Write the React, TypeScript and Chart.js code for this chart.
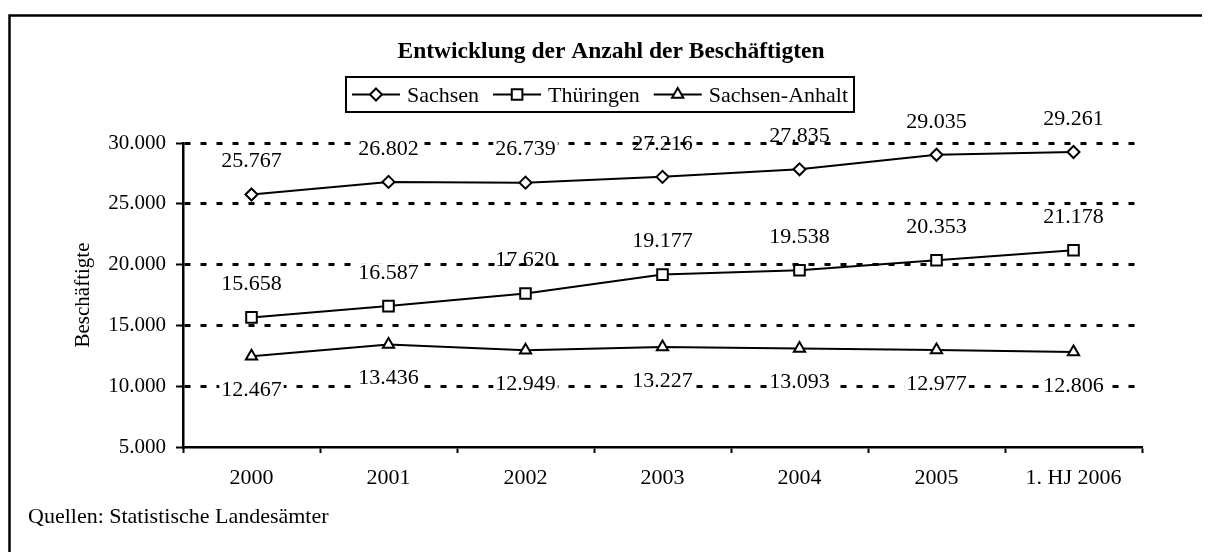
import React, { useEffect, useRef } from "react";
import { Chart, registerables } from "chart.js";

Chart.register(...registerables);

// ---------- data ----------
const categories = ["2000", "2001", "2002", "2003", "2004", "2005", "1. HJ 2006"];
const sachsen = [25767, 26802, 26739, 27216, 27835, 29035, 29261];
const thueringen = [15658, 16587, 17620, 19177, 19538, 20353, 21178];
const sachsenAnhalt = [12467, 13436, 12949, 13227, 13093, 12977, 12806];
const seriesNames = ["Sachsen", "Thüringen", "Sachsen-Anhalt"];
const yTicks = [5000, 10000, 15000, 20000, 25000, 30000];
const titleText = "Entwicklung der Anzahl der Beschäftigten";
const yAxisTitle = "Beschäftigte";
const sourceText = "Quellen: Statistische Landesämter";

const FONT = "'Liberation Serif', 'Times New Roman', serif";

const fmt = (v: number) => String(Math.round(v)).replace(/\B(?=(\d{3})+(?!\d))/g, ".");

function drawMarker(ctx: CanvasRenderingContext2D, style: string, x: number, y: number, r: number) {
  ctx.beginPath();
  if (style === "rectRot") {
    ctx.moveTo(x, y - r);
    ctx.lineTo(x + r, y);
    ctx.lineTo(x, y + r);
    ctx.lineTo(x - r, y);
    ctx.closePath();
  } else if (style === "rect") {
    const s = r * Math.SQRT1_2;
    ctx.rect(x - s, y - s, 2 * s, 2 * s);
  } else {
    let rad = 0;
    ctx.moveTo(x + Math.sin(rad) * r, y - Math.cos(rad) * r);
    rad += (2 * Math.PI) / 3;
    ctx.lineTo(x + Math.sin(rad) * r, y - Math.cos(rad) * r);
    rad += (2 * Math.PI) / 3;
    ctx.lineTo(x + Math.sin(rad) * r, y - Math.cos(rad) * r);
    ctx.closePath();
  }
  ctx.fillStyle = "#fff";
  ctx.fill();
  ctx.strokeStyle = "#000";
  ctx.lineWidth = 2;
  ctx.stroke();
}

// label placement per series (style, not data)
const labelBelow = [false, false, true];
// labels whose background is transparent (gridline shows through), as [series, point]
const transparentLabels = ["0-3", "0-4", "1-2"];

const valueLabels = {
  id: "valueLabels",
  afterDatasetsDraw(chart: any) {
    const ctx: CanvasRenderingContext2D = chart.ctx;
    ctx.save();
    ctx.font = `22px ${FONT}`;
    ctx.textAlign = "center";
    ctx.textBaseline = "middle";
    chart.data.datasets.forEach((ds: any, i: number) => {
      const meta = chart.getDatasetMeta(i);
      meta.data.forEach((pt: any, j: number) => {
        const text = fmt(ds.data[j]);
        const x = pt.x;
        const y = pt.y + (labelBelow[i] ? 34 : -33);
        const w = ctx.measureText(text).width;
        if (!transparentLabels.includes(`${i}-${j}`)) {
          ctx.fillStyle = "#fff";
          ctx.fillRect(x - w / 2 - 2, y - 10, w + 4, 21);
        }
        ctx.fillStyle = "#000";
        ctx.fillText(text, x, y);
      });
    });
    ctx.restore();
  },
};

const decor = {
  id: "decor",
  afterDraw(chart: any) {
    const ctx: CanvasRenderingContext2D = chart.ctx;
    ctx.save();
    // outer frame
    ctx.strokeStyle = "#000";
    ctx.lineWidth = 2.5;
    ctx.beginPath();
    ctx.moveTo(1.5, 700);
    ctx.lineTo(1.5, 7.5);
    ctx.lineTo(1400, 7.5);
    ctx.stroke();

    // title
    ctx.fillStyle = "#000";
    ctx.font = `bold 23.5px ${FONT}`;
    ctx.textAlign = "center";
    ctx.textBaseline = "alphabetic";
    ctx.fillText(titleText, 603, 50);

    // legend
    ctx.font = `22px ${FONT}`;
    ctx.textAlign = "left";
    const padL = 6, padR = 6, L = 48, gapT = 7, itemGap = 14;
    const widths = chart.data.datasets.map((d: any) => ctx.measureText(d.label).width);
    const bw = padL + padR + widths.reduce((a: number, w: number) => a + w + L + gapT, 0) + itemGap * (widths.length - 1);
    const bh = 35;
    const bx = 592 - bw / 2;
    const by = 69;
    ctx.strokeStyle = "#000";
    ctx.lineWidth = 2;
    ctx.strokeRect(bx, by, bw, bh);
    let x = bx + padL;
    const cy = by + bh / 2;
    chart.data.datasets.forEach((d: any, i: number) => {
      ctx.strokeStyle = "#000";
      ctx.lineWidth = 2;
      ctx.beginPath();
      ctx.moveTo(x, cy);
      ctx.lineTo(x + L, cy);
      ctx.stroke();
      drawMarker(ctx, d.pointStyle, x + L / 2, cy, d.pointRadius);
      ctx.fillStyle = "#000";
      ctx.fillText(d.label, x + L + gapT, cy + 7.5);
      x += L + gapT + widths[i] + itemGap;
    });

    // footer
    ctx.font = `22px ${FONT}`;
    ctx.fillText(sourceText, 20, 515);
    ctx.restore();
  },
};

export default function App() {
  const ref = useRef<HTMLCanvasElement>(null);
  useEffect(() => {
    document.body.style.overflow = "hidden";
    const line = (label: string, data: number[], pointStyle: string, pointRadius: number) => ({
      label,
      data,
      borderColor: "#000",
      borderWidth: 2,
      pointStyle,
      pointRadius,
      pointBackgroundColor: "#fff",
      pointBorderColor: "#000",
      pointBorderWidth: 2,
      tension: 0,
      fill: false,
    });
    const chart = new Chart(ref.current!, {
      type: "line",
      data: {
        labels: categories,
        datasets: [
          line(seriesNames[0], sachsen, "rectRot", 6),
          line(seriesNames[1], thueringen, "rect", 7.5),
          line(seriesNames[2], sachsenAnhalt, "triangle", 6.5),
        ] as any,
      },
      options: {
        responsive: false,
        animation: false,
        devicePixelRatio: 1,
        layout: { padding: { left: 0, right: 68, top: 135, bottom: 0 } },
        plugins: {
          legend: { display: false },
          title: { display: false },
          tooltip: { enabled: false },
        },
        scales: {
          x: {
            type: "category",
            offset: true,
            grid: {
              display: true,
              drawOnChartArea: false,
              drawTicks: true,
              tickLength: 6,
              offset: true,
              tickColor: "#000",
              tickWidth: 2,
            },
            border: { display: true, color: "#000", width: 2.5 },
            ticks: {
              color: "#000",
              font: { family: FONT, size: 22 },
              padding: 12,
              maxRotation: 0,
              autoSkip: false,
            },
            afterFit: (s: any) => {
              s.height = 105;
            },
          },
          y: {
            min: 5000,
            max: 30000,
            afterBuildTicks: (s: any) => {
              s.ticks = yTicks.map((v) => ({ value: v }));
            },
            grid: {
              color: (c: any) => (c.tick && c.tick.value === 5000 ? "rgba(0,0,0,0)" : "#000"),
              lineWidth: 3,
              drawTicks: true,
              tickLength: 7,
              tickColor: "#000",
              tickWidth: 2,
              tickBorderDash: [],
            },
            border: { display: true, color: "#000", width: 2.5, dash: [6, 10] },
            ticks: {
              color: "#000",
              font: { family: FONT, size: 21 },
              padding: 10,
              callback: (v: any) => fmt(Number(v)),
            },
            title: {
              display: true,
              text: yAxisTitle,
              color: "#000",
              font: { family: FONT, size: 21 },
              padding: { top: 63, bottom: 0 },
            },
            afterFit: (s: any) => {
              s.width = 175;
            },
          },
        },
      } as any,
      plugins: [valueLabels, decor],
    });
    return () => chart.destroy();
  }, []);
  return (
    <div style={{ width: 1202, height: 544, position: "relative" }}>
      <canvas ref={ref} width={1202} height={544} style={{ display: "block" }} />
    </div>
  );
}
